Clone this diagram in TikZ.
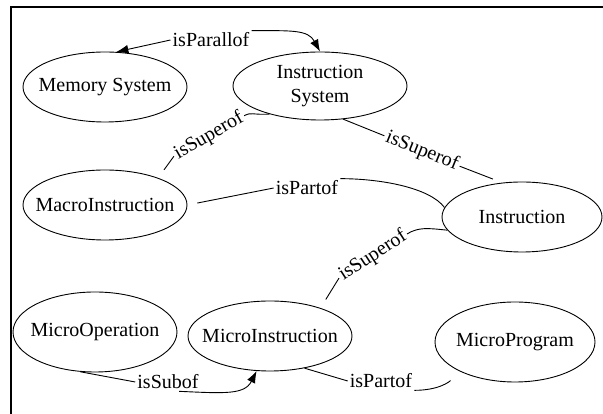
\documentclass[tikz,border=0pt]{standalone}
\usepackage{fontspec}
\setmainfont{Liberation Serif}
\usetikzlibrary{shapes.geometric,arrows.meta}

\begin{document}
\begin{tikzpicture}[x=1pt,y=1pt,
    concept/.style={draw, ellipse, line width=0.9pt, inner xsep=-12pt, inner ysep=0pt,
        font=\fontsize{20}{24}\selectfont, align=center},
    rel/.style={inner sep=2pt, font=\fontsize{20}{24}\selectfont},
    link/.style={line width=0.9pt},
    gap/.style={link, shorten >=10pt},
    tip/.style={link, -{Latex[length=12pt,width=9pt]}}]

    \useasboundingbox (0,0) rectangle (603,414);

    % Frame
    \draw[line width=2pt] (603,407) -- (11,407) -- (11,0);

    % Concepts
    \node[concept, minimum width=164pt, minimum height=70pt] (mem) at (105,327) {Memory System};
    \node[concept, minimum width=174pt, minimum height=68pt] (insys) at (320,328) {Instruction\\System};
    \node[concept, minimum width=164pt, minimum height=70pt] (macro) at (105,209) {MacroInstruction};
    \node[concept, minimum width=160pt, minimum height=70pt] (instr) at (522,197) {Instruction};
    \node[concept, minimum width=164pt, minimum height=80pt] (mop) at (95,82) {MicroOperation};
    \node[concept, minimum width=164pt, minimum height=70pt] (mins) at (270,78) {MicroInstruction};
    \node[concept, minimum width=160pt, minimum height=80pt] (mprog) at (515,72) {MicroProgram};

    % Relations
    \node[rel] (par) at (211,374) {isParallof};
    \node[rel, rotate=30] (sup1) at (209,278) {isSuperof};
    \node[rel, rotate=-22] (sup2) at (422,263) {isSuperof};
    \node[rel] (part1) at (307,226) {isPartof};
    \node[rel, rotate=33] (sup3) at (373,158) {isSuperof};
    \node[rel] (sub) at (168,32) {isSubof};
    \node[rel] (part2) at (381,33) {isPartof};

    % Connectors
    \draw[tip] (par.west) -- (mem.72);
    \draw[tip] (par.north east) .. controls +(40,0) and +(-12,22) .. (insys.north);
    \draw[link] (insys.209) .. controls +(-18,-1) and +(8,4) .. (sup1.east);
    \draw[gap] (sup1.west) -- (macro.27);
    \draw[link] (insys.305) -- (sup2.west);
    \draw[gap] (sup2.east) -- (instr.120);
    \draw[link] (instr.173) .. controls +(-15,20) and +(40,0) .. (part1.north east);
    \draw[gap] (part1.west) -- (macro.east);
    \draw[link] (instr.190) .. controls +(-20,2) and +(12,7) .. (sup3.east);
    \draw[gap] (sup3.west) -- (mins.29);
    \draw[link] (mop.250) -- (sub.west);
    \draw[tip] (sub.-40) .. controls +(45,-2) and +(-12,-24) .. (mins.249);
    \draw[link] (mins.317) -- (part2.west);
    \draw[gap, shorten >=13pt] (part2.south east) .. controls +(25,0) and +(-10,-10) .. (mprog.208);

\end{tikzpicture}
\end{document}
